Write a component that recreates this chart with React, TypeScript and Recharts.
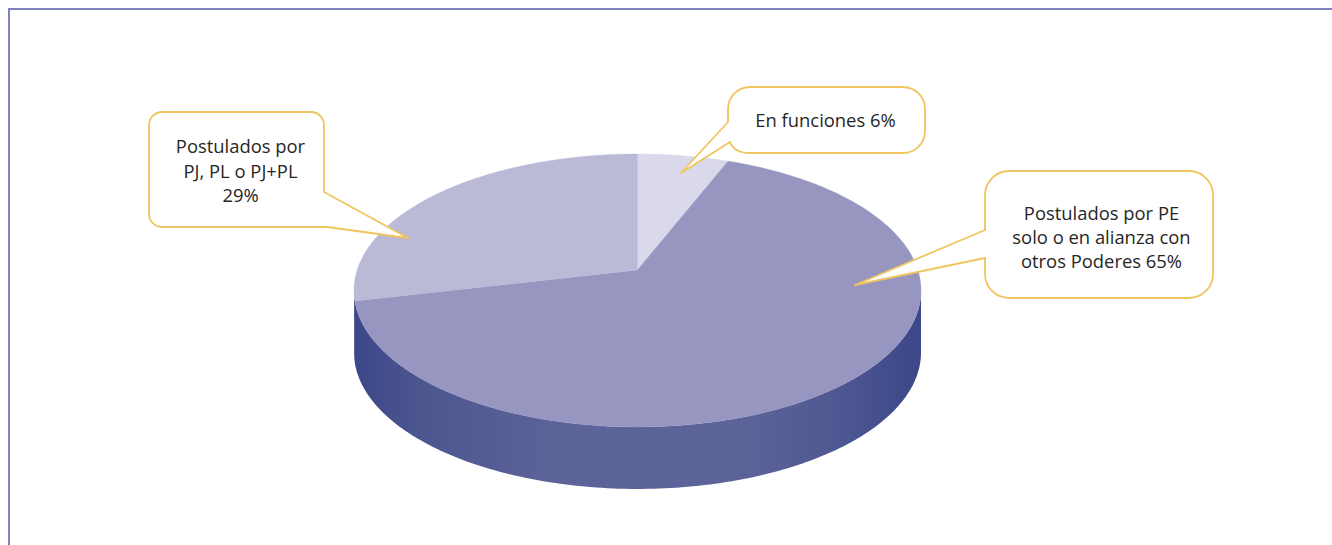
import React from "react";
import { PieChart, Pie, Cell } from "recharts";

const categories = ["En funciones", "Postulados por PE", "Postulados por PJ, PL o PJ+PL"];
const seriesValues = [6, 65.4, 28.6];
const sliceColors = ["#d9d9eb", "#9696c0", "#babad7"];
const labelLines = [
  ["En funciones 6%"],
  ["Postulados por PE", "solo o en alianza con", "otros Poderes 65%"],
  ["Postulados por", "PJ, PL o PJ+PL", "29%"],
];

const data = categories.map((name, i) => ({ name, value: seriesValues[i] }));

const boxes = [
  { l: 728, r: 925, t: 87, b: 153, rad: 22, tx: 825.5, ty: 126.5, lead: 24, p: [[730, 142], [681, 173], [728, 122]] },
  { l: 985, r: 1213, t: 171, b: 298, rad: 24, tx: 1101.5, ty: 220, lead: 24, p: [[985, 258], [855, 285], [985, 230]] },
  { l: 149, r: 324, t: 112, b: 227, rad: 13, tx: 240.5, ty: 153, lead: 24.5, p: [[324, 192], [408, 238], [327, 227]] },
];

const TILT = 133.4 / 280.3;
const PERSP = 0.15;
const DEPTH = 62;

function project(cx: number, cy: number, r: number, deg: number, dy = 0) {
  const th = ((90 - deg) * Math.PI) / 180;
  const X = Math.sin(th);
  const Y = Math.cos(th);
  const d = 1 + PERSP * Y;
  return [cx + (r * X) / d, cy - (r * TILT * Y) / d + dy];
}

function angles(p: any) {
  const out: number[] = [];
  const n = Math.max(2, Math.ceil(Math.abs(p.endAngle - p.startAngle)));
  for (let i = 0; i <= n; i++) out.push(p.startAngle + ((p.endAngle - p.startAngle) * i) / n);
  return out;
}

const toPath = (pts: number[][]) =>
  "M" + pts.map((q) => q[0].toFixed(2) + " " + q[1].toFixed(2)).join("L") + "Z";

function TopSlice(p: any) {
  const pts = angles(p).map((a) => project(p.cx, p.cy, p.outerRadius, a));
  return <path d={toPath([[p.cx, p.cy], ...pts])} fill={p.fill} stroke={p.fill} strokeWidth={0.4} />;
}

function WallSlice(p: any) {
  // only the part of the rim that faces the viewer
  const front = angles(p).filter((a) => Math.cos(((90 - a) * Math.PI) / 180) <= -PERSP + 0.01);
  if (front.length < 2) return null;
  const top = front.map((a) => project(p.cx, p.cy, p.outerRadius, a));
  const bottom = front.map((a) => project(p.cx, p.cy, p.outerRadius, a, DEPTH)).reverse();
  return <path d={toPath([...top, ...bottom])} fill="url(#wallGradient)" />;
}

function Callout(p: any) {
  const b = boxes[p.index];
  const lines = labelLines[p.index];
  const { l, r, t, b: bot, rad } = b;
  const [a1, tip, a2] = b.p;
  const arc = (x: number, y: number) => `A${rad} ${rad} 0 0 1 ${x} ${y}`;
  const pointer = `L${a1[0]} ${a1[1]}L${tip[0]} ${tip[1]}L${a2[0]} ${a2[1]}`;
  const head = `M${l + rad} ${t}L${r - rad} ${t}${arc(r, t + rad)}`;
  const close = `L${l} ${t + rad}${arc(l + rad, t)}Z`;
  let d = "";
  if (p.index === 0) {
    d = `${head}L${r} ${bot - rad}${arc(r - rad, bot)}L${l + rad} ${bot}Q${l + 6} ${bot} ${a1[0]} ${a1[1]}L${tip[0]} ${tip[1]}L${a2[0]} ${a2[1]}${close}`;
  } else if (p.index === 1) {
    d = `${head}L${r} ${bot - rad}${arc(r - rad, bot)}L${l + rad} ${bot}${arc(l, bot - rad)}${pointer}${close}`;
  } else {
    d = `${head}${pointer}L${l + rad} ${bot}${arc(l, bot - rad)}${close}`;
  }
  return (
    <g>
      <path d={d} fill="#ffffff" stroke="#f0c55f" strokeWidth={1.8} strokeLinejoin="round" />
      {lines.map((s, i) => (
        <text
          key={s}
          x={b.tx}
          y={b.ty + i * b.lead}
          textAnchor="middle"
          fontFamily="'Open Sans', sans-serif"
          fontSize={18.4}
          fill="#262626"
        >
          {s}
        </text>
      ))}
    </g>
  );
}

export default function App() {
  return (
    <div style={{ position: "absolute", left: 0, top: 0, width: 1332, height: 545, overflow: "hidden", background: "#fff" }}>
      <div
        style={{
          position: "absolute",
          left: 8,
          top: 8,
          width: 1324,
          height: 537,
          borderTop: "2px solid #7f83bd",
          borderLeft: "2px solid #7f83bd",
          boxSizing: "border-box",
        }}
      />
      <div style={{ position: "absolute", left: 0, top: 0 }}>
        <PieChart width={1332} height={545} margin={{ top: 0, right: 0, bottom: 0, left: 0 }}>
          <defs>
            <linearGradient id="wallGradient" gradientUnits="userSpaceOnUse" x1={354} y1={0} x2={921} y2={0}>
              <stop offset="0" stopColor="#3c4789" />
              <stop offset="0.12" stopColor="#4d568f" />
              <stop offset="0.35" stopColor="#5c6399" />
              <stop offset="0.7" stopColor="#5c6399" />
              <stop offset="0.85" stopColor="#4f5892" />
              <stop offset="1" stopColor="#3c4789" />
            </linearGradient>
          </defs>
          <Pie
            data={data}
            dataKey="value"
            nameKey="name"
            cx={637.5}
            cy={270}
            innerRadius={0}
            outerRadius={280.3}
            startAngle={90}
            endAngle={-270}
            paddingAngle={0}
            stroke="none"
            shape={WallSlice}
            isAnimationActive={false}
            legendType="none"
          />
          <Pie
            data={data}
            dataKey="value"
            nameKey="name"
            cx={637.5}
            cy={270}
            innerRadius={0}
            outerRadius={280.3}
            startAngle={90}
            endAngle={-270}
            paddingAngle={0}
            stroke="none"
            shape={TopSlice}
            label={Callout}
            labelLine={false}
            isAnimationActive={false}
          >
            {data.map((d, i) => (
              <Cell key={d.name} fill={sliceColors[i]} />
            ))}
          </Pie>
        </PieChart>
      </div>
    </div>
  );
}
